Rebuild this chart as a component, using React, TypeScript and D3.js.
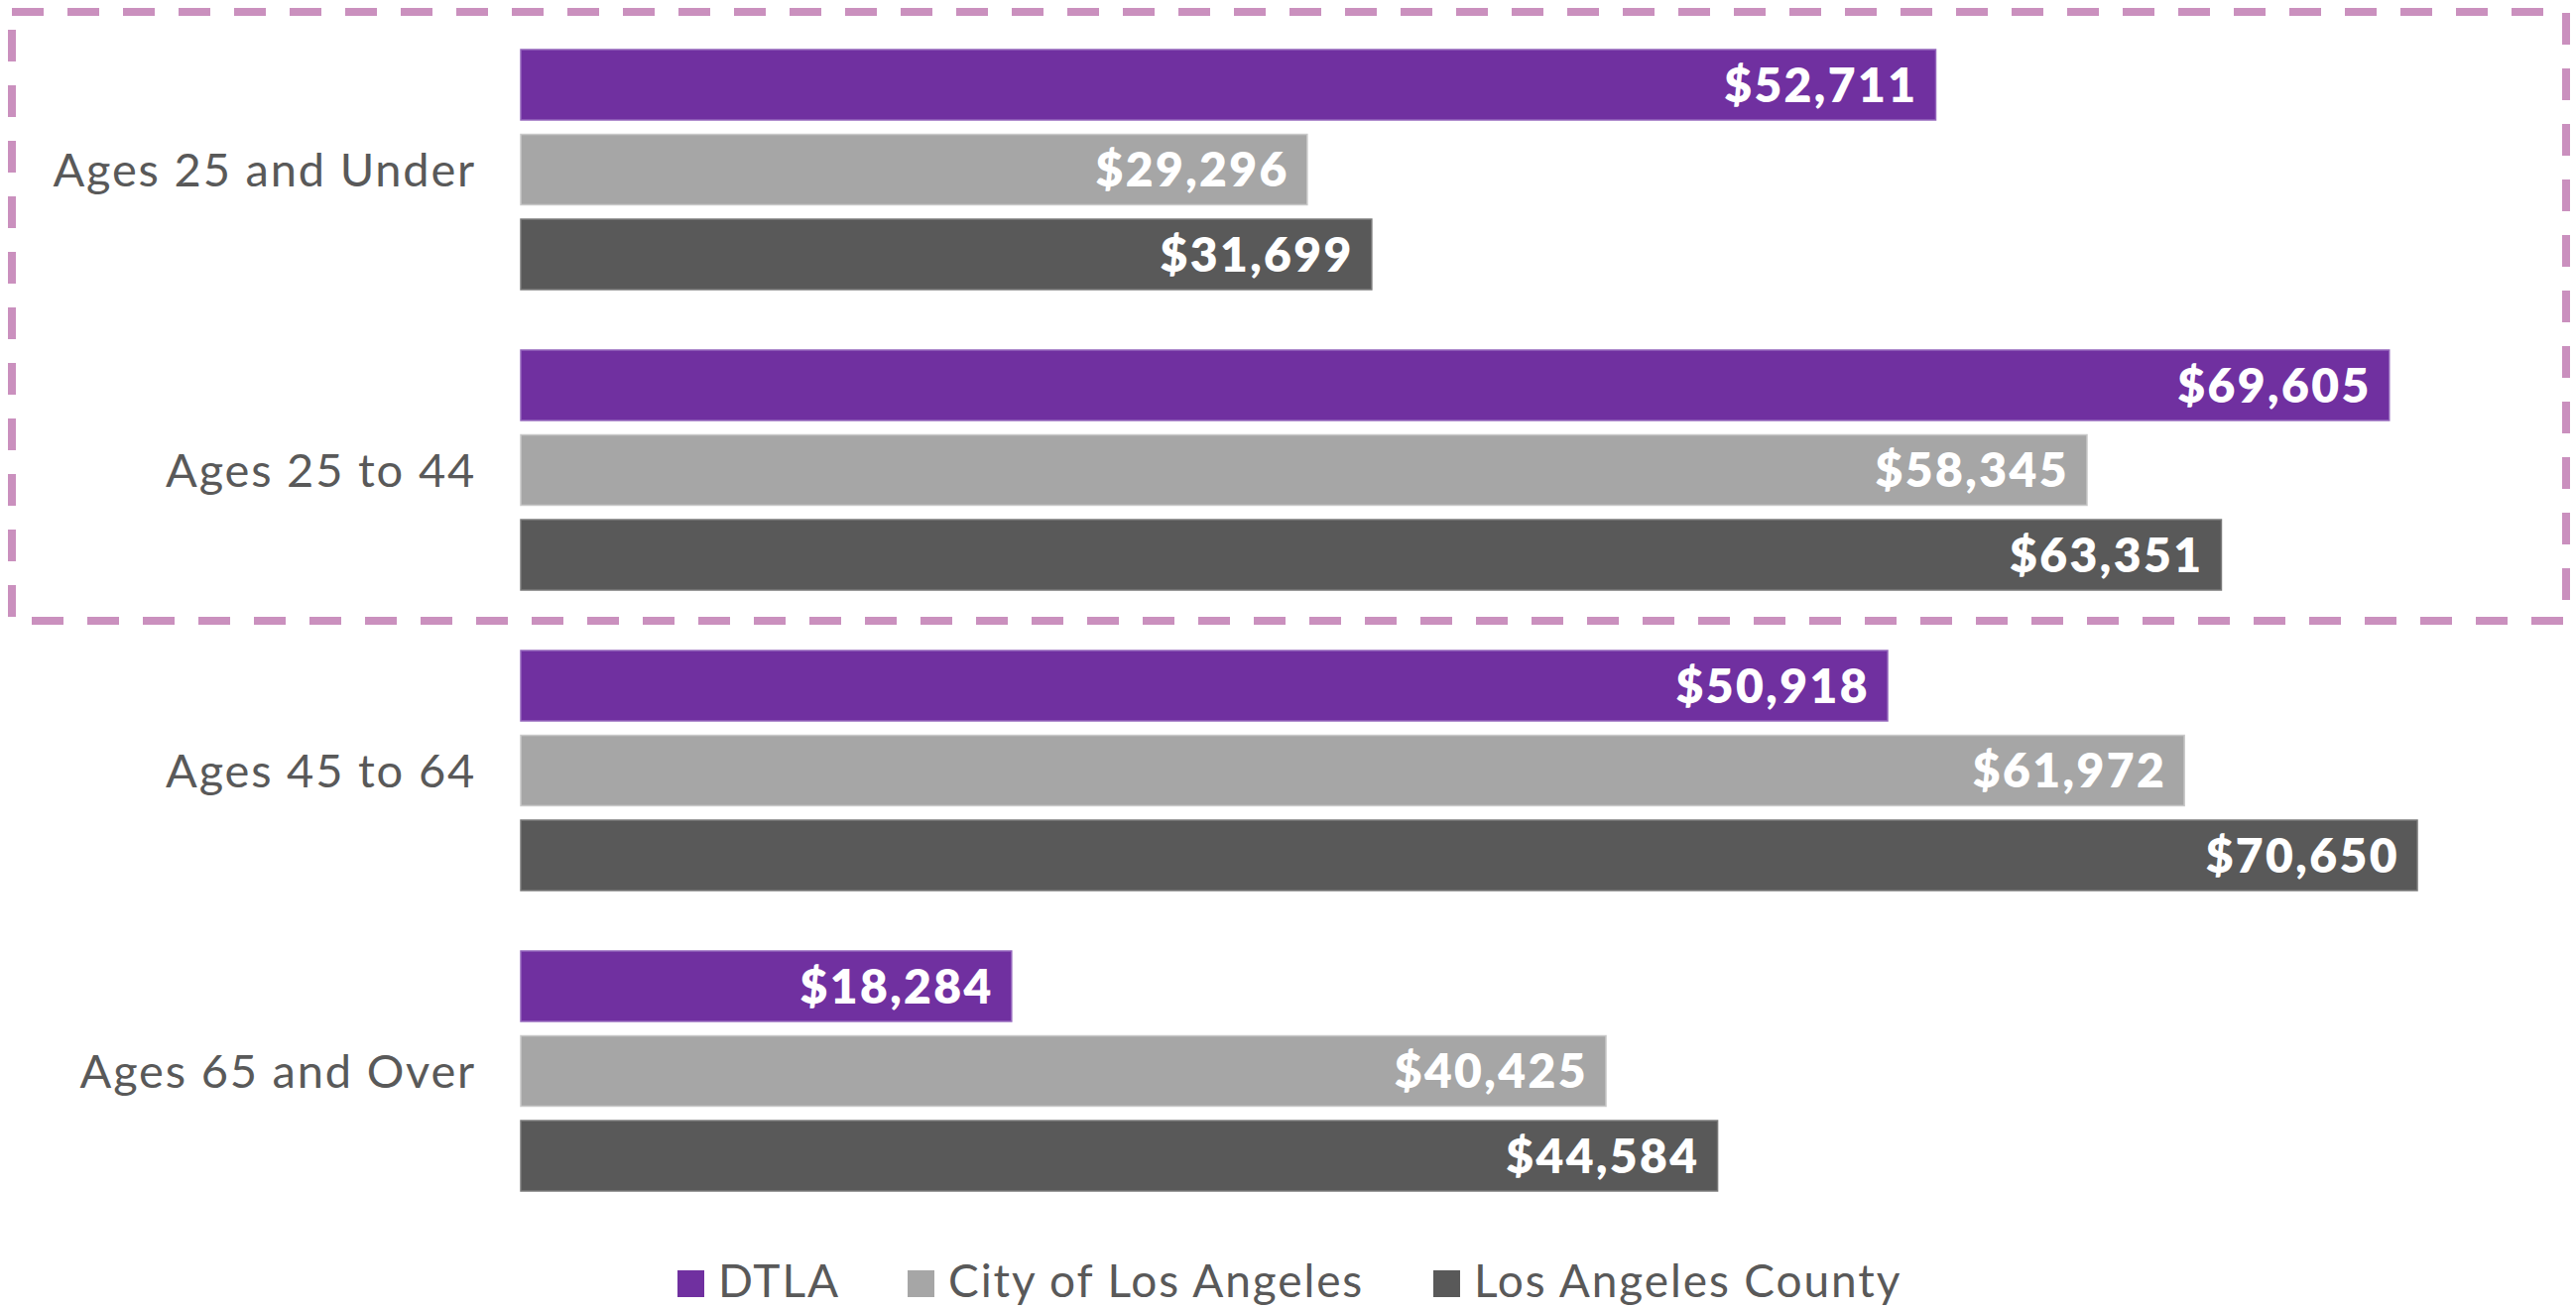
import React from "react";
import * as d3 from "d3";

const categories = ["Ages 25 and Under", "Ages 25 to 44", "Ages 45 to 64", "Ages 65 and Over"];
const seriesNames = ["DTLA", "City of Los Angeles", "Los Angeles County"];
const dtla = [52711, 69605, 50918, 18284];
const cityLA = [29296, 58345, 61972, 40425];
const county = [31699, 63351, 70650, 44584];
const seriesValues = [dtla, cityLA, county];
const colors = ["#7030A0", "#A6A6A6", "#595959"];
const borders = ["#9466BC", "#C8C8C8", "#7A7A7A"];

const W = 2597;
const H = 1320;

export default function App() {
  const x = d3.scaleLinear().domain([0, 70650]).range([525, 2437]);
  const y = d3.scaleBand<string>().domain(categories).range([50, 1201]).paddingInner(0.2013).paddingOuter(0);
  const ySub = d3.scaleBand<string>().domain(seriesNames).range([0, y.bandwidth()]).paddingInner(0.17);
  const fmt = d3.format("$,");
  const font = "Lato, 'Noto Sans', sans-serif";

  const legendX = [683, 915, 1445];

  return (
    <svg width={W} height={H} style={{ position: "fixed", left: 0, top: 0, background: "#fff" }}>
      <rect
        x={12}
        y={12}
        width={2575}
        height={614}
        fill="none"
        stroke="#CA90BE"
        strokeWidth={8}
        strokeDasharray="32 24"
      />
      {categories.map((c, i) => (
        <g key={c}>
          <text
            x={480}
            y={(y(c) as number) + y.bandwidth() / 2}
            dy="0.36em"
            textAnchor="end"
            fontFamily={font}
            fontWeight={400}
            fontSize={47}
            letterSpacing={1.8}
            fill="#595959"
          >
            {c}
          </text>
          {seriesNames.map((s, j) => {
            const v = seriesValues[j][i];
            const by = (y(c) as number) + (ySub(s) as number);
            return (
              <g key={s}>
                <rect
                  x={x(0)}
                  y={by}
                  width={x(v) - x(0)}
                  height={ySub.bandwidth()}
                  fill={colors[j]}
                  stroke={borders[j]}
                  strokeWidth={1.5}
                />
                <text
                  x={x(v) - 18}
                  y={by + ySub.bandwidth() / 2}
                  dy="0.36em"
                  textAnchor="end"
                  fontFamily={font}
                  fontWeight={800}
                  fontSize={48}
                  letterSpacing={2.4}
                  fill="#ffffff"
                >
                  {fmt(v)}
                </text>
              </g>
            );
          })}
        </g>
      ))}
      {seriesNames.map((s, j) => (
        <g key={s}>
          <rect x={legendX[j]} y={1281} width={27} height={27} fill={colors[j]} />
          <text
            x={legendX[j] + 41}
            y={1308}
            fontFamily={font}
            fontWeight={400}
            fontSize={46}
            letterSpacing={1.9}
            fill="#595959"
          >
            {s}
          </text>
        </g>
      ))}
    </svg>
  );
}
